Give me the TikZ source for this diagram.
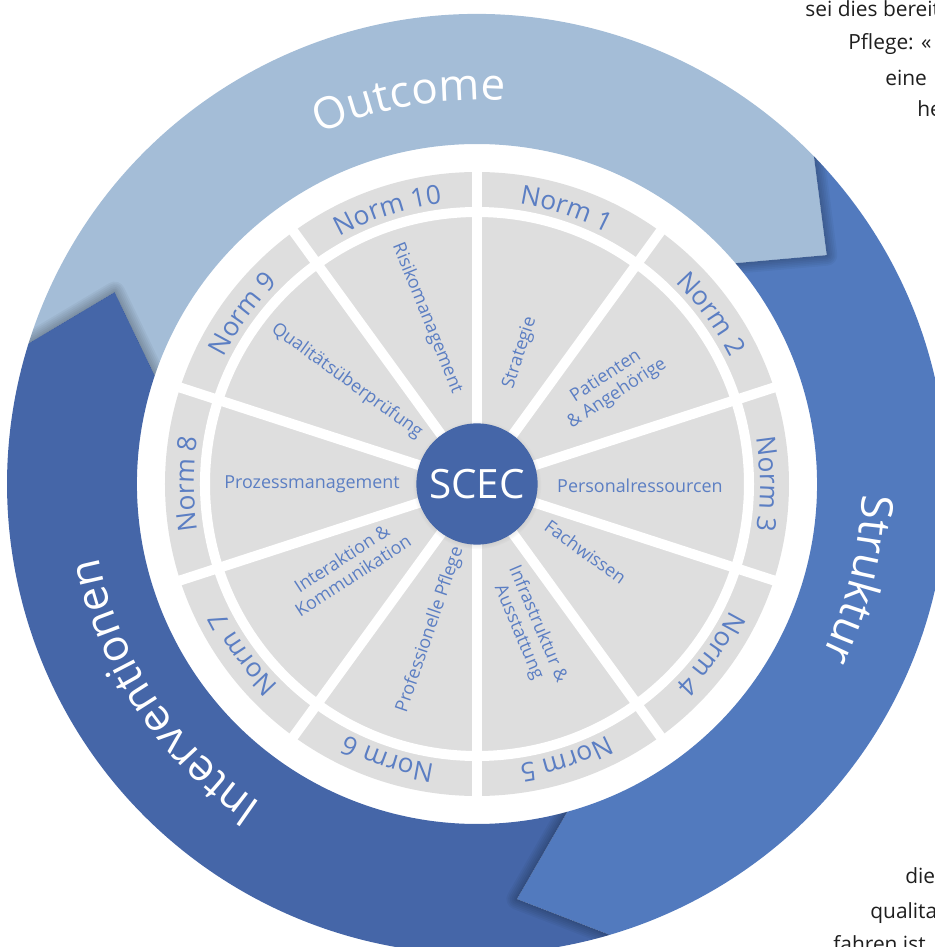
\documentclass[tikz,border=0pt]{standalone}
\usepackage{fontspec}
\setmainfont{Open Sans}
\usetikzlibrary{decorations.text,shadows}

\definecolor{outcomeblue}{HTML}{A4BDD7}
\definecolor{strukturblue}{HTML}{527ABE}
\definecolor{intervblue}{HTML}{4566A8}
\definecolor{normgrey}{HTML}{DEDEDE}
\definecolor{labelblue}{HTML}{5B7EC3}
\definecolor{bodytext}{HTML}{1E1E1E}

\newcommand\ringfont{\fontsize{25}{25}\selectfont}
\newcommand\normfont{\fontsize{15}{15}\selectfont}

\tikzset{
  spoke/.style={white,line width=5.7pt},
  chevshadow/.style={black,opacity=.04,line join=round},
  inlabel/.style={text=labelblue,font=\fontsize{10.2}{11.7}\selectfont,align=center,inner sep=0pt},
  bodyline/.style={text=bodytext,font=\fontsize{11.9}{14}\selectfont,anchor=base west,inner sep=0pt},
}

\begin{document}
\begin{tikzpicture}[x=0.02cm,y=0.02cm]
\useasboundingbox (-477,-463) rectangle (457,484);
% arrow heads: outer corner, tip, inner corner
\coordinate (o1) at (44.2:470); \coordinate (t1) at (33.2:418); \coordinate (i1) at (40.5:340);
\coordinate (o2) at (-73.6:470); \coordinate (t2) at (-84.5:417); \coordinate (i2) at (-74.6:340);
\coordinate (o3) at (162.6:470); \coordinate (t3) at (152.1:410); \coordinate (i3) at (161.4:340);

% the three arrows of the outer ring
\fill[outcomeblue] (o3) arc[start angle=162.6,end angle=44.2,radius=470] -- (t1) -- (i1)
  arc[start angle=40.5,end angle=161.4,radius=340] -- (t3) -- cycle;
\fill[strukturblue] (o1) arc[start angle=44.2,end angle=-73.6,radius=470] -- (t2) -- (i2)
  arc[start angle=-74.6,end angle=40.5,radius=340] -- (t1) -- cycle;
\fill[intervblue] (o2) arc[start angle=-73.6,end angle=-197.4,radius=470] -- (t3) -- (i3)
  arc[start angle=-198.6,end angle=-74.6,radius=340] -- (t2) -- cycle;

% soft shadows under the heads
\begin{scope}
  \clip (o1) -- (t1) -- (i1) arc[start angle=40.5,end angle=5,radius=340] -- (5:470)
    arc[start angle=5,end angle=44.2,radius=470] -- cycle;
  \foreach \w in {2,4,6,8,10,12} \draw[chevshadow,line width=\w pt] (o1) -- (t1) -- (i1);
\end{scope}
\begin{scope}
  \clip (o2) -- (t2) -- (i2) arc[start angle=-74.6,end angle=-110,radius=340] -- (-110:470)
    arc[start angle=-110,end angle=-73.6,radius=470] -- cycle;
  \foreach \w in {2,4,6,8,10,12} \draw[chevshadow,line width=\w pt] (o2) -- (t2) -- (i2);
\end{scope}
\begin{scope}
  \clip (o3) -- (t3) -- (i3) arc[start angle=161.4,end angle=125,radius=340] -- (125:470)
    arc[start angle=125,end angle=162.6,radius=470] -- cycle;
  \foreach \w in {2,4,6,8,10,12} \draw[chevshadow,line width=\w pt] (o3) -- (t3) -- (i3);
\end{scope}

% ring labels
\path[decorate,decoration={text along path,text align=center,text color=white,
  text={|\ringfont|Outcome}}] (140:384) arc[start angle=140,end angle=60,radius=384];
\path[decorate,decoration={text along path,text align=center,text color=white,
  text={|\ringfont|Struktur}}] (26:385) arc[start angle=26,end angle=-54,radius=385];
\path[decorate,decoration={text along path,text align=center,text color=white,
  text={|\ringfont|Interventionen}}] (-106:385) arc[start angle=-106,end angle=-187,radius=385];

% wheel
\fill[normgrey] (0,0) circle[radius=312];
\draw[white,line width=5.7pt] (0,0) circle[radius=272];
\foreach \s in {0,...,9} \draw[spoke] (0,0) -- (90-36*\s:318);

\foreach \n in {1,...,10}{
  \pgfmathsetmacro\a{72-36*(\n-1)}
  \path[decorate,decoration={text along path,text align=center,text color=labelblue,
    text/.expanded={|\noexpand\normfont|Norm \n}}]
    (\a+40:283) arc[start angle=\a+40,end angle=\a-40,radius=283];
}

\node[inlabel,rotate=72] (strategie) at (71.8:138) {Strategie};
\node[inlabel,rotate=33] (patienten) at (36.3:167) {Patienten\\\& Angehörige};
\node[inlabel] (personal) at (-0.7:163) {Personalressourcen};
\node[inlabel,rotate=-36] (fachwissen) at (-32:128) {Fachwissen};
\node[inlabel,rotate=-67] (infra) at (-70.5:153) {Infrastruktur \&\\Ausstattung};
\node[inlabel,rotate=71] (pflege) at (-107.8:153) {Professionelle Pflege};
\node[inlabel,rotate=33] (interaktion) at (-147.4:154) {Interaktion \&\\Kommunikation};
\node[inlabel] (prozess) at (180:165) {Prozessmanagement};
\node[inlabel,rotate=-36] (qualitaet) at (141.6:166) {Qualitätsüberprüfung};
\node[inlabel,rotate=-68] (risiko) at (106.8:173) {Risikomanagement};

\node[circle,fill=intervblue,minimum size=69pt,inner sep=0pt,text=white,
  font=\fontsize{23}{23}\selectfont,
  circular drop shadow={shadow scale=1.06,opacity=.3,shadow xshift=0pt,shadow yshift=-.5pt}]
  (scec) at (0,0) {SCEC};

% running text beside the figure
\node[bodyline] (line1) at (328,467) {sei dies bereit};
\node[bodyline] (line2) at (371,434) {Pflege: «};
\node[bodyline] (line3) at (408,398) {eine};
\node[bodyline] (line4) at (440,367) {he};
\node[bodyline] (line5) at (428,-399) {die};
\node[bodyline] (line6) at (393,-434) {qualita};
\node[bodyline] (line7) at (356,-467) {fahren ist};
\end{tikzpicture}
\end{document}
